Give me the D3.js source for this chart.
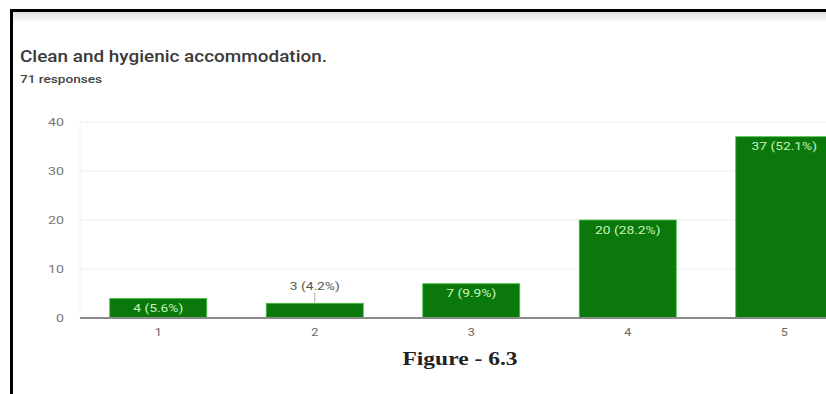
<!DOCTYPE html>
<html>
<head>
<meta charset="utf-8">
<script src="https://cdn.jsdelivr.net/npm/d3@7"></script>
<style>
  html, body { margin: 0; padding: 0; background: #fff; }
  svg { display: block; }
</style>
</head>
<body>
<svg id="chart" width="826" height="394"></svg>
<script>
// Survey responses per rating
const categories = ["1", "2", "3", "4", "5"];
const counts = [4, 3, 7, 20, 37];
const percentLabels = ["5.6%", "4.2%", "9.9%", "28.2%", "52.1%"];
const yTicks = [0, 10, 20, 30, 40];
const totalResponses = 71;

const svg = d3.select("#chart");
const W = 826, H = 394;
const FONT = "Roboto, Arial, sans-serif";

// widen glyphs horizontally by factor k (the figure is a wide-aspect capture)
function stretch(sel, k) {
  sel.each(function () {
    const n = this.getComputedTextLength();
    d3.select(this).attr("textLength", n * k).attr("lengthAdjust", "spacingAndGlyphs");
  });
}

// page frame: heavy top/left rule and a soft shadow under the top edge
const defs = svg.append("defs");
const grad = defs.append("linearGradient").attr("id", "shade").attr("x1", 0).attr("y1", 0).attr("x2", 0).attr("y2", 1);
grad.append("stop").attr("offset", "0%").attr("stop-color", "#e0e0e0");
grad.append("stop").attr("offset", "100%").attr("stop-color", "#ffffff");
svg.append("rect").attr("x", 13).attr("y", 12).attr("width", W - 13).attr("height", 11).attr("fill", "url(#shade)");
svg.append("rect").attr("x", 10).attr("y", 9).attr("width", W - 10).attr("height", 3).attr("fill", "#000");
svg.append("rect").attr("x", 10).attr("y", 9).attr("width", 3).attr("height", H - 9).attr("fill", "#000");

// heading
svg.append("text").attr("x", 20).attr("y", 62)
  .attr("font-family", FONT).attr("font-size", 16.5).attr("font-weight", 500)
  .attr("fill", "#3a3a3a").text("Clean and hygienic accommodation.")
  .attr("textLength", 307).attr("lengthAdjust", "spacingAndGlyphs");
svg.append("text").attr("x", 20).attr("y", 83)
  .attr("font-family", FONT).attr("font-size", 10.5).attr("font-weight", 500)
  .attr("fill", "#444").text(totalResponses + " responses")
  .attr("textLength", 82).attr("lengthAdjust", "spacingAndGlyphs");

// scales
const plotLeft = 80;
const x = d3.scaleBand().domain(categories).range([plotLeft, plotLeft + 5 * 156.5]).paddingInner(0.38).paddingOuter(0.19);
const y = d3.scaleLinear().domain([0, 40]).range([318, 122]);

// horizontal gridlines
svg.append("g").selectAll("line").data(yTicks.filter(t => t > 0)).join("line")
  .attr("x1", plotLeft).attr("x2", W).attr("y1", d => y(d)).attr("y2", d => y(d))
  .attr("stroke", "#ececec").attr("stroke-width", 1);
svg.append("line").attr("x1", plotLeft).attr("x2", plotLeft).attr("y1", y(40)).attr("y2", y(0))
  .attr("stroke", "#f2f2f2");

// y axis labels
const yAxis = d3.axisLeft(y).tickValues(yTicks).tickSize(0).tickPadding(0);
const gy = svg.append("g").attr("transform", "translate(64,0)").call(yAxis);
gy.select(".domain").remove();
gy.selectAll("text").attr("font-family", FONT).attr("font-size", 10.5).attr("fill", "#777");
stretch(gy.selectAll("text"), 1.35);

// bars
svg.append("g").selectAll("rect").data(counts).join("rect")
  .attr("x", (d, i) => x(categories[i]))
  .attr("y", d => y(d))
  .attr("width", x.bandwidth())
  .attr("height", d => y(0) - y(d))
  .attr("fill", "#0b780b")
  .attr("stroke", "#46c246").attr("stroke-width", 0.8);

// value labels: inside the bar when it is tall enough, above it otherwise
const labels = svg.append("g");
counts.forEach((d, i) => {
  const cx = x(categories[i]) + x.bandwidth() / 2;
  const txt = d + " (" + percentLabels[i] + ")";
  const inside = (y(0) - y(d)) > 18;
  if (inside) {
    labels.append("text").attr("x", cx).attr("y", y(d) + 13.5)
      .attr("text-anchor", "middle").attr("font-family", FONT)
      .attr("font-size", 11.5).attr("fill", "#c8f3bc").text(txt);
  } else {
    labels.append("line").attr("x1", cx).attr("x2", cx).attr("y1", y(d)).attr("y2", y(d) - 11)
      .attr("stroke", "#9a9a9a").attr("stroke-width", 0.8);
    labels.append("text").attr("x", cx).attr("y", y(d) - 13)
      .attr("text-anchor", "middle").attr("font-family", FONT)
      .attr("font-size", 11.5).attr("fill", "#555").text(txt);
  }
});
stretch(labels.selectAll("text"), 1.2);

// x axis
const xAxis = d3.axisBottom(x).tickSize(0).tickPadding(11);
const gx = svg.append("g").attr("transform", "translate(0," + y(0) + ")").call(xAxis);
gx.select(".domain").remove();
gx.selectAll("text").attr("font-family", FONT).attr("font-size", 10.5).attr("fill", "#666");
stretch(gx.selectAll("text"), 1.2);
svg.append("line").attr("x1", plotLeft).attr("x2", W).attr("y1", y(0)).attr("y2", y(0))
  .attr("stroke", "#8a8a8a").attr("stroke-width", 2);

// caption
svg.append("text").attr("x", 460).attr("y", 365).attr("text-anchor", "middle")
  .attr("font-family", "'Liberation Serif', 'Times New Roman', serif").attr("font-weight", "bold")
  .attr("font-size", 19).attr("fill", "#222").text("Figure - 6.3")
  .attr("textLength", 115).attr("lengthAdjust", "spacingAndGlyphs");
</script>
</body>
</html>
